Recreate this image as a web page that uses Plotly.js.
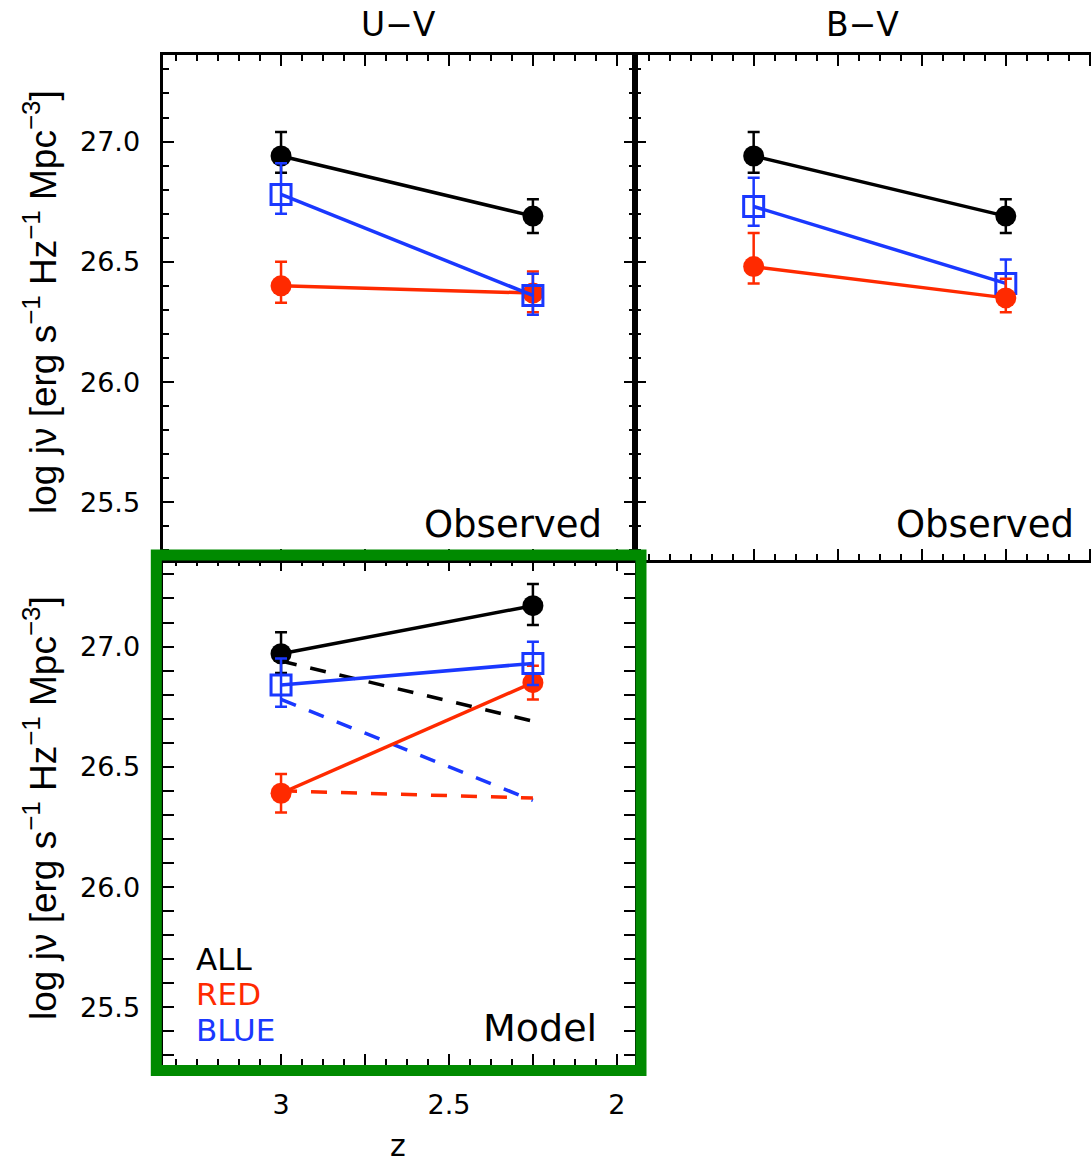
<!DOCTYPE html>
<html>
<head>
<meta charset="utf-8">
<script src="https://cdn.plot.ly/plotly-3.0.1.min.js"></script>
<style>
html, body { margin: 0; padding: 0; overflow: hidden; background: #fff; }
#chart { width: 1108px; height: 1163px; }
</style>
</head>
<body>
<div id="chart"></div>
<script>
// ---------- data ----------
const zPts = [3.0, 2.25];

// U-V observed
const uvAll = [26.94, 26.69];   const uvAllUp = [0.10, 0.07];  const uvAllDn = [0.07, 0.07];
const uvRed = [26.40, 26.37];   const uvRedUp = [0.10, 0.09];  const uvRedDn = [0.07, 0.08];
const uvBlue = [26.78, 26.36];  const uvBlueUp = [0.13, 0.09]; const uvBlueDn = [0.08, 0.08];

// B-V observed
const bvAll = [26.94, 26.69];   const bvAllUp = [0.10, 0.07];  const bvAllDn = [0.07, 0.07];
const bvRed = [26.48, 26.35];   const bvRedUp = [0.14, 0.08];  const bvRedDn = [0.07, 0.06];
const bvBlue = [26.73, 26.41];  const bvBlueUp = [0.12, 0.10]; const bvBlueDn = [0.08, 0.08];

// Model (U-V)
const mAll = [26.97, 27.17];    const mAllUp = [0.09, 0.09];   const mAllDn = [0.08, 0.08];
const mRed = [26.39, 26.85];    const mRedUp = [0.08, 0.07];   const mRedDn = [0.08, 0.07];
const mBlue = [26.84, 26.93];   const mBlueUp = [0.11, 0.09];  const mBlueDn = [0.09, 0.09];

const xMajorTicks = [2, 2.25, 2.5, 2.75, 3];
const xLabelVals = [2, 2.5, 3];
const xLabelText = ['2', '2.5', '3'];
const yTickVals = [25.5, 26.0, 26.5, 27.0];
const yTickText = ['25.5', '26.0', '26.5', '27.0'];

const colTitles = ['U\u2212V', 'B\u2212V'];
const panelLabels = ['Observed', 'Observed', 'Model'];
const legendNames = ['ALL', 'RED', 'BLUE'];
const yTitle = 'log j\u03bd [erg s<sup>\u22121</sup> Hz<sup>\u22121</sup> Mpc<sup>\u22123</sup>]';
const xTitle = 'z';

// ---------- styling ----------
const BLACK = '#000000', RED = '#ff2a00', BLUE = '#1a38ff', GREEN = '#008a00';
const W = 1108, H = 1163;
const px = v => v / W;
const py = v => 1 - v / H;

function series(x, y, up, dn, color, symbol, xa, ya) {
  const filled = symbol === 'circle';
  return {
    type: 'scatter', mode: 'lines+markers', x: x, y: y, xaxis: xa, yaxis: ya,
    line: { color: color, width: 3.5 },
    marker: filled ? { symbol: 'circle', size: 21, color: color }
                   : { symbol: 'square-open', size: 20, color: color, line: { color: color, width: 3 } },
    error_y: { type: 'data', symmetric: false, array: up, arrayminus: dn, color: color, thickness: 2.5, width: 6 },
    showlegend: false, hoverinfo: 'skip'
  };
}
function dashed(x, y, color, xa, ya) {
  return {
    type: 'scatter', mode: 'lines', x: x, y: y, xaxis: xa, yaxis: ya,
    line: { color: color, width: 3.5, dash: '16px,14px' },
    showlegend: false, hoverinfo: 'skip'
  };
}

const traces = [
  // top-left U-V observed
  series(zPts, uvAll, uvAllUp, uvAllDn, BLACK, 'circle', 'x', 'y'),
  series(zPts, uvRed, uvRedUp, uvRedDn, RED, 'circle', 'x', 'y'),
  series(zPts, uvBlue, uvBlueUp, uvBlueDn, BLUE, 'square', 'x', 'y'),
  // top-right B-V observed
  series(zPts, bvAll, bvAllUp, bvAllDn, BLACK, 'circle', 'x2', 'y2'),
  series(zPts, bvBlue, bvBlueUp, bvBlueDn, BLUE, 'square', 'x2', 'y2'),
  series(zPts, bvRed, bvRedUp, bvRedDn, RED, 'circle', 'x2', 'y2'),
  // bottom-left model
  dashed(zPts, uvAll, BLACK, 'x3', 'y3'),
  dashed(zPts, uvBlue, BLUE, 'x3', 'y3'),
  dashed(zPts, uvRed, RED, 'x3', 'y3'),
  series(zPts, mAll, mAllUp, mAllDn, BLACK, 'circle', 'x3', 'y3'),
  series(zPts, mRed, mRedUp, mRedDn, RED, 'circle', 'x3', 'y3'),
  series(zPts, mBlue, mBlueUp, mBlueDn, BLUE, 'square', 'x3', 'y3'),
  // empty carrier for the label-only x axis
  { type: 'scatter', mode: 'markers', x: [], y: [], xaxis: 'x4', yaxis: 'y3', showlegend: false, hoverinfo: 'skip' }
];

const xRange = [3.353, 1.946];
const yRange = [25.26, 27.36];
const tickFont = { family: 'DejaVu Sans, sans-serif', size: 27, color: '#000' };

function xAxis(domain, anchor) {
  return {
    domain: domain, anchor: anchor, range: xRange, autorange: false,
    showline: true, linecolor: '#000', linewidth: 3, mirror: 'allticks',
    ticks: 'inside', ticklen: 11, tickwidth: 2, tickcolor: '#000',
    tickmode: 'array', tickvals: xMajorTicks,
    showticklabels: false,
    minor: { tickmode: 'linear', tick0: 2, dtick: 0.0625, ticks: 'inside', ticklen: 6, tickwidth: 2, tickcolor: '#000', showgrid: false },
    showgrid: false, zeroline: false, fixedrange: true
  };
}
function yAxis(domain, anchor, showLabels) {
  return {
    domain: domain, anchor: anchor, range: yRange, autorange: false,
    showline: true, linecolor: '#000', linewidth: 3, mirror: 'allticks',
    ticks: 'inside', ticklen: 11, tickwidth: 2, tickcolor: '#000',
    tickmode: 'array', tickvals: yTickVals, ticktext: yTickText,
    showticklabels: showLabels, tickfont: tickFont, ticklabelstandoff: 14,
    minor: { tickmode: 'linear', tick0: 25, dtick: 0.1, ticks: 'inside', ticklen: 6, tickwidth: 2, tickcolor: '#000', showgrid: false },
    showgrid: false, zeroline: false, fixedrange: true
  };
}

const leftDom = [px(162.5), px(635)];
const rightDom = [px(635), 1];
const topDom = [py(560), py(55)];
const botDom = [py(1065), py(560)];

const annFont = (size, color) => ({ family: 'DejaVu Sans, sans-serif', size: size, color: color || '#000' });
const yTitleFont = { family: 'Liberation Sans, sans-serif', size: 37, color: '#000' };
const legendAnn = (txt, color, yc) => ({
  text: txt, x: px(195), y: py(yc), xref: 'paper', yref: 'paper', xanchor: 'left', yanchor: 'middle',
  showarrow: false, font: annFont(31, color), height: 33, valign: 'middle', borderpad: 0
});
const annotations = [
  { text: colTitles[0], x: px(398), y: py(25), xref: 'paper', yref: 'paper', xanchor: 'center', yanchor: 'middle', showarrow: false, font: annFont(33) },
  { text: colTitles[1], x: px(862), y: py(25), xref: 'paper', yref: 'paper', xanchor: 'center', yanchor: 'middle', showarrow: false, font: annFont(33) },
  { text: panelLabels[0], x: px(604), y: py(524), xref: 'paper', yref: 'paper', xanchor: 'right', yanchor: 'middle', showarrow: false, font: annFont(37) },
  { text: panelLabels[1], x: px(1076), y: py(524), xref: 'paper', yref: 'paper', xanchor: 'right', yanchor: 'middle', showarrow: false, font: annFont(37) },
  { text: panelLabels[2], x: px(599), y: py(1028), xref: 'paper', yref: 'paper', xanchor: 'right', yanchor: 'middle', showarrow: false, font: annFont(38) },
  legendAnn(legendNames[0], BLACK, 958),
  legendAnn(legendNames[1], RED, 993),
  legendAnn(legendNames[2], BLUE, 1029),
  { text: yTitle, x: px(40), y: py(302), xref: 'paper', yref: 'paper', xanchor: 'center', yanchor: 'middle', textangle: -90, showarrow: false, font: yTitleFont },
  { text: yTitle, x: px(40), y: py(808), xref: 'paper', yref: 'paper', xanchor: 'center', yanchor: 'middle', textangle: -90, showarrow: false, font: yTitleFont },
  { text: xTitle, x: px(398), y: py(1145), xref: 'paper', yref: 'paper', xanchor: 'center', yanchor: 'middle', showarrow: false, font: annFont(30) }
];

const shapes = [
  { type: 'rect', xref: 'paper', yref: 'paper', x0: px(156.3), x1: px(641), y0: py(555), y1: py(1070.5),
    line: { color: GREEN, width: 11 }, fillcolor: 'rgba(0,0,0,0)', layer: 'above' }
];

const layout = {
  width: W, height: H,
  margin: { l: 0, r: 0, t: 0, b: 0, pad: 0 },
  paper_bgcolor: '#fff', plot_bgcolor: 'rgba(0,0,0,0)',
  showlegend: false,
  xaxis: xAxis(leftDom, 'y'),
  yaxis: yAxis(topDom, 'x', true),
  xaxis2: xAxis(rightDom, 'y2'),
  yaxis2: yAxis(topDom, 'x2', false),
  xaxis3: xAxis(leftDom, 'y3'),
  yaxis3: yAxis(botDom, 'x3', true),
  xaxis4: {
    overlaying: 'x3', anchor: 'y3', side: 'bottom', range: xRange, autorange: false,
    showline: false, ticks: '', tickmode: 'array', tickvals: xLabelVals, ticktext: xLabelText,
    showticklabels: true, tickfont: tickFont, ticklabelstandoff: 21,
    showgrid: false, zeroline: false, fixedrange: true
  },
  annotations: annotations,
  shapes: shapes
};

Plotly.newPlot('chart', traces, layout, { staticPlot: true, displayModeBar: false });
</script>
</body>
</html>
